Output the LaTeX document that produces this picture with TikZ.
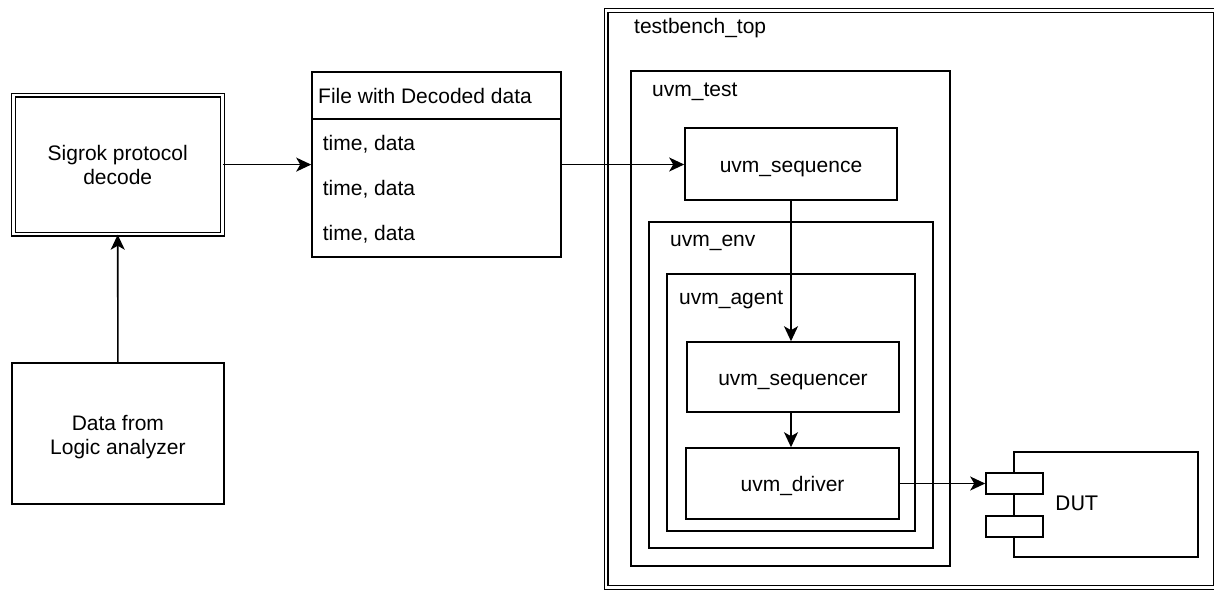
\documentclass[tikz,border=0pt]{standalone}
\usepackage{fontspec}
\setmainfont{Liberation Sans}
\newfontfamily\dejavu{DejaVu Sans}
\usetikzlibrary{arrows.meta}
\begin{document}
\begin{tikzpicture}[x=1pt,y=-1pt,
  box/.style={draw, line width=1.6pt, inner sep=0pt, font=\fontsize{21}{24}\selectfont},
  cbox/.style={box, text height=16pt, text depth=0pt},
  dbox/.style={draw, line width=1.2pt, double, double distance=2.6pt, inner sep=0pt, font=\fontsize{21}{24}\selectfont},
  lbl/.style={anchor=base west, inner sep=0pt, font=\fontsize{21}{24}\selectfont},
  port/.style={draw, fill=white, line width=1.6pt, inner sep=0pt, minimum width=57pt, minimum height=21pt},
  arr/.style={line width=1.6pt, -{Stealth[length=15pt,width=14pt,inset=4pt]}},
]
\useasboundingbox (0,0) rectangle (1214,590);

% left side
\node[dbox, minimum width=209pt, minimum height=139pt, align=center] (sigrok) at (117.7,164.6) {Sigrok protocol\\decode};
\node[box, minimum width=212pt, minimum height=141pt, align=center, text height=41.6pt, text depth=0pt] (data) at (117.9,433.5) {Data from\\Logic analyzer};

% file with decoded data
\node[box, minimum width=249pt, minimum height=185pt] (file) at (436.5,164.5) {};
\draw[line width=1.6pt] (file.west |- 0,119) coordinate (hl) -- (file.east |- 0,119) coordinate (hr);
\node[lbl] (hdr) at (318,103.3) {File with Decoded data};
\node[lbl] (it1) at (322.7,150) {time, data};
\node[lbl] (it2) at (322.7,195) {time, data};
\node[lbl] (it3) at (322.7,240.7) {time, data};

% testbench
\node[dbox, minimum width=609pt, minimum height=577pt] (tb) at (910.5,299.2) {};
\node[lbl] (tbl) at (634,33.5) {testbench\_top};
\node[box, minimum width=319pt, minimum height=495pt] (test) at (790.5,318.5) {};
\node[lbl] (testl) at (652,96) {uvm\_test};
\node[cbox, minimum width=212pt, minimum height=72pt] (seq) at (791,164) {uvm\_sequence};
\node[box, minimum width=284pt, minimum height=326pt] (env) at (791,385) {};
\node[lbl] (envl) at (670,246.7) {uvm\_env};
\node[box, minimum width=248pt, minimum height=257pt] (agent) at (791,402.5) {};
\node[lbl] (agentl) at (679,304) {uvm\_agent};
\node[cbox, minimum width=212pt, minimum height=70pt] (sqr) at (793,377) {uvm\_sequencer};
\node[cbox, minimum width=213pt, minimum height=71pt] (drv) at (792.5,483.5) {uvm\_driver};

% DUT
\node[box, minimum width=184pt, minimum height=105pt] (dut) at (1106,504.5) {};
\node[port] (p1) at (1014.5,483.5) {};
\node[port] (p2) at (1014.5,526.5) {};
\node[anchor=base west, inner sep=0pt, font=\dejavu\fontsize{20}{24}\selectfont] (dutl) at (1055,510.7) {DUT};

% connectors
\draw[arr] (data.north) -- (sigrok.south);
\draw[arr] (sigrok.east) -- (sigrok.east -| file.west);
\draw[arr] (file.east) -- (file.east -| seq.west);
\draw[arr] (seq.south) -- (seq.south |- sqr.north);
\draw[arr] (sqr.south -| seq.south) -- (seq.south |- drv.north);
\draw[arr] (drv.east) -- (drv.east -| p1.west);
\end{tikzpicture}
\end{document}
